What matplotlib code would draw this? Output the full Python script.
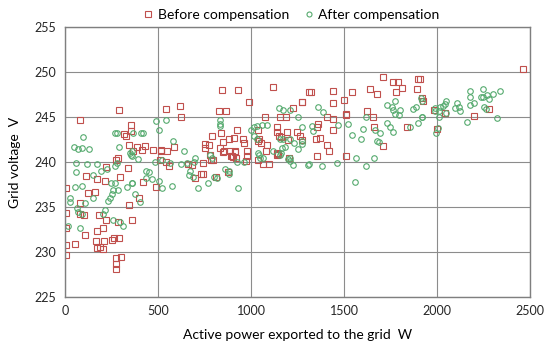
import matplotlib.pyplot as plt

plt.rcParams['font.family'] = ['Lato', 'DejaVu Sans']

# before compensation (squares): power W, voltage V
before_p = [274, 220, 557, 543, 113, 172, 215, 296, 339, 419, 489, 5, 124, 161, 398, 344,
            81, 5, 81, 104, 181, 220, 285, 359, 5, 106, 174, 203, 263, 292, 168, 211,
            254, 52, 5, 174, 203, 190, 5, 301, 274, 274, 273,
            292, 82, 543, 618, 624, 355, 317, 328, 355, 344, 385, 430, 475, 516, 588, 283,
            364, 416, 516, 548, 511,
            844, 928, 1118, 989, 828, 864, 1075, 1156, 1188, 1224, 1273, 1313, 923, 837, 792,
            883, 910, 959, 962, 848, 833, 855, 754, 753, 776, 887, 914, 891, 905, 977, 977,
            1039, 1036, 1045, 1054, 1081, 1088, 1138, 1141, 1150, 1160, 1192, 1197, 1246,
            1263, 1273, 1141, 1147, 1204,
            660, 681, 744, 785, 797, 896, 919, 971, 744, 731, 699, 812, 878, 1036, 1066,
            1098, 1138, 780, 851, 914,
            1711, 1762, 1789, 1779, 1810, 1896, 1891, 1323, 1442, 1541, 1640, 1676, 1273,
            1439, 1500, 1511, 1509, 1622, 1654, 1407, 1442, 1362, 1353, 1442, 1349, 1371,
            1407, 1421, 1661, 1711, 1837, 1353, 1509,
            2464, 2276, 2199, 1998, 2043, 1985, 1918, 1926, 1908]
before_v = [240.3, 239.5, 239.6, 240.0, 238.5, 238.1, 237.9, 238.4, 239.4, 237.8, 237.3, 237.1,
            236.6, 236.7, 236.0, 235.3, 235.5, 234.3, 234.2, 234.1, 234.1, 233.6, 233.4, 233.6,
            232.7, 231.9, 232.3, 232.7, 231.6, 231.6, 231.2, 231.2, 231.3, 230.9, 230.8, 230.5,
            230.3, 230.6, 229.7, 229.5, 229.4, 228.7, 228.1,
            245.8, 244.7, 245.9, 246.2, 245.0, 244.1, 243.1, 242.9, 243.5, 241.9, 241.7, 241.8,
            241.4, 241.3, 241.7, 240.5,
            241.2, 241.4, 241.4, 241.2, 240.3,
            248.0, 248.0, 248.4, 246.7, 245.7, 245.7, 245.0, 245.0, 245.0, 246.0, 246.7, 247.8,
            243.6, 243.2, 242.9, 242.6, 242.7, 242.6, 242.1, 242.2, 241.6, 241.3, 242.0, 241.6,
            241.9, 241.3, 241.2, 240.7, 240.6, 241.3, 240.7,
            243.6, 242.4, 242.6, 242.1, 241.3, 241.9, 243.4, 243.9, 242.9, 242.8, 243.4, 242.5,
            243.4, 242.9, 242.5, 241.0, 240.9, 240.5,
            239.8, 239.7, 239.9, 240.2, 240.2, 240.7, 240.5, 240.1, 238.7, 238.7, 238.3, 238.4,
            238.9, 240.3, 239.8, 239.8, 240.8, 240.8, 241.1, 241.1,
            249.5, 248.9, 248.9, 247.8, 248.2, 249.3, 248.1, 247.8, 247.9, 247.8, 248.1, 247.6,
            246.7, 246.6, 246.9, 245.4, 245.2, 245.7, 245.0, 245.0, 244.8, 244.3, 243.9, 243.6,
            242.6, 242.7, 241.9, 241.3, 243.9, 241.8, 243.9, 240.7, 240.7,
            250.4, 245.9, 245.1, 243.7, 245.5, 245.8, 247.1, 246.8, 249.3]

# after compensation (circles)
after_p = [59, 120, 170, 59, 152, 192, 227, 269, 280, 247, 269, 359, 434, 452, 437, 468, 507,
           520, 574, 54, 90, 27, 27, 108, 152, 260, 287, 251, 242, 233, 335, 362, 376, 403,
           66, 68, 90, 215, 206, 260, 296, 313, 18, 81,
           349, 359, 394, 484, 520, 564,
           489, 543, 507, 98, 269, 281, 364, 409, 421, 579, 48, 72, 90, 131, 290, 362, 355, 641,
           1150, 1174, 1210, 1254, 833, 833, 833, 1002, 1016, 1034, 1057, 1084, 1016, 1031,
           1156, 1170, 1183, 1210, 1233, 1254, 699, 780, 792, 1039, 1048, 1156, 1168, 1210,
           624, 657, 695, 672, 668, 690, 717, 767, 803, 816, 860, 883, 883, 932, 926, 964,
           1041, 1063, 1117, 1161, 1197, 1210, 1227, 1308,
           1362, 1389, 1326, 1335, 1466, 1523, 1545, 1591, 1604, 1617, 1667, 1679, 1693, 1688,
           1729, 1756, 1774, 1762, 1774, 1801, 1797, 1733, 1747, 1762, 1855, 1872, 1887, 1899,
           1918, 1912, 1921, 1273, 1273, 1273, 1659,
           1313, 1380, 1461, 1563, 1617, 1561,
           2174, 2177, 2246, 2249, 2267, 2281, 2236, 2299, 2339, 2200, 2177, 2106, 2118, 2124,
           2097, 2048, 2043, 2030, 2016, 2012, 1989, 1989, 2048, 2254, 2262, 1918, 2012, 2160,
           2321, 1995, 2002]
after_v = [239.9, 239.8, 239.8, 238.9, 238.6, 239.0, 239.3, 239.6, 239.9, 237.7, 237.7, 237.7,
           239.0, 238.9, 238.2, 238.1, 237.9, 237.1, 237.4, 237.2, 237.4, 236.0, 235.6, 235.5,
           236.0, 236.9, 236.9, 236.5, 236.0, 235.7, 237.3, 237.7, 236.5, 235.6,
           234.9, 234.5, 234.2, 234.7, 234.2, 233.6, 233.3, 232.9, 232.9, 232.7,
           241.0, 240.7, 240.4, 240.0, 240.3, 239.9,
           244.6, 244.7, 243.6, 242.8, 243.3, 243.3, 243.3, 243.3, 243.3, 242.4, 241.7, 241.5,
           241.6, 241.5, 241.7, 241.3, 240.8, 241.3,
           246.0, 245.8, 245.8, 245.0, 244.7, 244.3, 244.0, 243.6, 243.9, 244.0, 244.1, 244.1,
           242.9, 242.6, 242.6, 242.6, 241.7, 242.6, 242.1, 241.5, 240.5, 240.8, 240.5, 241.0,
           240.5, 240.8, 241.6, 240.5,
           239.8, 239.9, 240.0, 239.0, 238.6, 238.4, 237.1, 237.7, 238.4, 238.2, 239.3, 239.0,
           238.7, 237.1, 240.0, 240.0, 240.8, 240.5, 241.3, 241.0, 240.4, 240.1, 239.7, 239.7,
           246.1, 245.6, 244.0, 243.5, 244.1, 244.2, 243.0, 242.6, 243.7, 245.0, 243.6, 242.4,
           243.3, 242.2, 246.4, 246.1, 246.8, 245.8, 245.4, 245.8, 245.2, 244.4, 243.9, 243.4,
           243.9, 245.9, 246.1, 244.4, 245.0, 247.1, 246.8, 243.9, 242.4, 242.0, 240.5,
           239.8, 239.6, 239.9, 240.5, 239.6, 237.8,
           247.9, 247.2, 248.1, 247.3, 247.5, 247.0, 247.2, 247.6, 247.9, 246.6, 246.4, 246.6,
           246.1, 245.7, 246.0, 246.8, 246.5, 246.2, 246.1, 245.7, 246.0, 245.7, 245.5, 246.1,
           245.9, 245.0, 245.0, 244.5, 244.9, 243.3, 243.8]

fig = plt.figure(figsize=(5.5, 3.5), dpi=100)
ax = fig.add_axes([0.118, 0.151, 0.846, 0.771])

ax.plot(before_p, before_v, 's', markersize=4.3, markerfacecolor='none',
        markeredgecolor='#c0504d', markeredgewidth=0.8, label='Before compensation')
ax.plot(after_p, after_v, 'o', markersize=4.0, markerfacecolor='none',
        markeredgecolor='#55aa6e', markeredgewidth=0.8, label='After compensation')

ax.set_xlim(0, 2500)
ax.set_ylim(225, 255)
ax.set_xticks(range(0, 2501, 500))
ax.set_yticks(range(225, 256, 5))
ax.grid(True, color='#8c8c8c', linewidth=0.8)
ax.set_axisbelow(True)
for s in ax.spines.values():
    s.set_color('#7f7f7f')
    s.set_linewidth(1.0)
ax.tick_params(length=0, labelsize=9, pad=6, colors='#262626')

ax.set_xlabel('Active power exported to the grid  W', fontsize=10, labelpad=8)
ax.set_ylabel('Grid voltage  V', fontsize=10, labelpad=10)

fig.legend(loc='upper center', bbox_to_anchor=(0.527, 1.01), ncol=2, frameon=False,
           fontsize=10, handletextpad=0.1, columnspacing=0.8, handlelength=1.2,
           markerscale=0.9)

fig.savefig('out.png', dpi=100)
